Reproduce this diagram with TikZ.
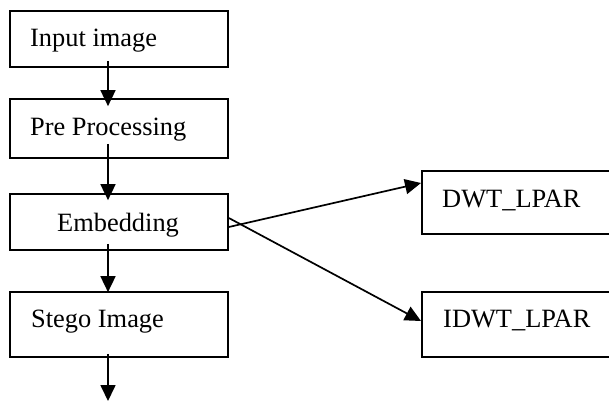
\documentclass[tikz,border=0pt]{standalone}
\usepackage{fontspec}
\setmainfont{Liberation Serif}
\usetikzlibrary{arrows.meta}
\begin{document}
\begin{tikzpicture}[x=1pt,y=-1pt,
  box/.style={draw=black, line width=1.7pt, rectangle, inner sep=0pt},
  lbl/.style={inner sep=0pt, anchor=base west, font=\fontsize{26.4pt}{30pt}\selectfont},
  arr/.style={line width=1.7pt, -{Triangle[length=16pt,width=15pt]}}]
\path[use as bounding box, clip] (0,0) rectangle (609,401);
\node[box, minimum width=218pt, minimum height=56pt] (b1) at (119,39) {};
\node[box, minimum width=218pt, minimum height=59pt] (b2) at (119,128.5) {};
\node[box, minimum width=218pt, minimum height=56pt] (b3) at (119,222) {};
\node[box, minimum width=218pt, minimum height=65pt] (b4) at (119,324.5) {};
\node[box, minimum width=200pt, minimum height=63pt, anchor=west] (d1) at (421,202.5) {};
\node[box, minimum width=200pt, minimum height=65pt, anchor=west] (d2) at (421,324.5) {};
\node[lbl] (t1) at (30,47) {Input image};
\node[lbl] (t2) at (30,135) {Pre Processing};
\node[lbl] (t3) at (57,231) {Embedding};
\node[lbl] (t4) at (31,327) {Stego Image};
\node[lbl] (t5) at (442,207) {DWT\_LPAR};
\node[lbl] (t6) at (443,327) {IDWT\_LPAR};
\coordinate (end) at (108,401);
\draw[arr] ([xshift=-11pt,yshift=7pt]b1.south) -- ([xshift=-11pt,yshift=-8pt]b2.north);
\draw[arr] ([xshift=-11pt,yshift=15pt]b2.south) -- ([xshift=-11pt,yshift=-7pt]b3.north);
\draw[arr] ([xshift=-11pt,yshift=7pt]b3.south) -- ([xshift=-11pt,yshift=-1pt]b4.north);
\draw[arr] ([xshift=-11pt,yshift=4pt]b4.south) -- (end);
\draw[arr] ([yshift=-5pt]b3.east) -- ([yshift=19.5pt]d1.west);
\draw[arr] ([yshift=4pt]b3.east) -- ([yshift=3.5pt]d2.west);
\end{tikzpicture}
\end{document}
